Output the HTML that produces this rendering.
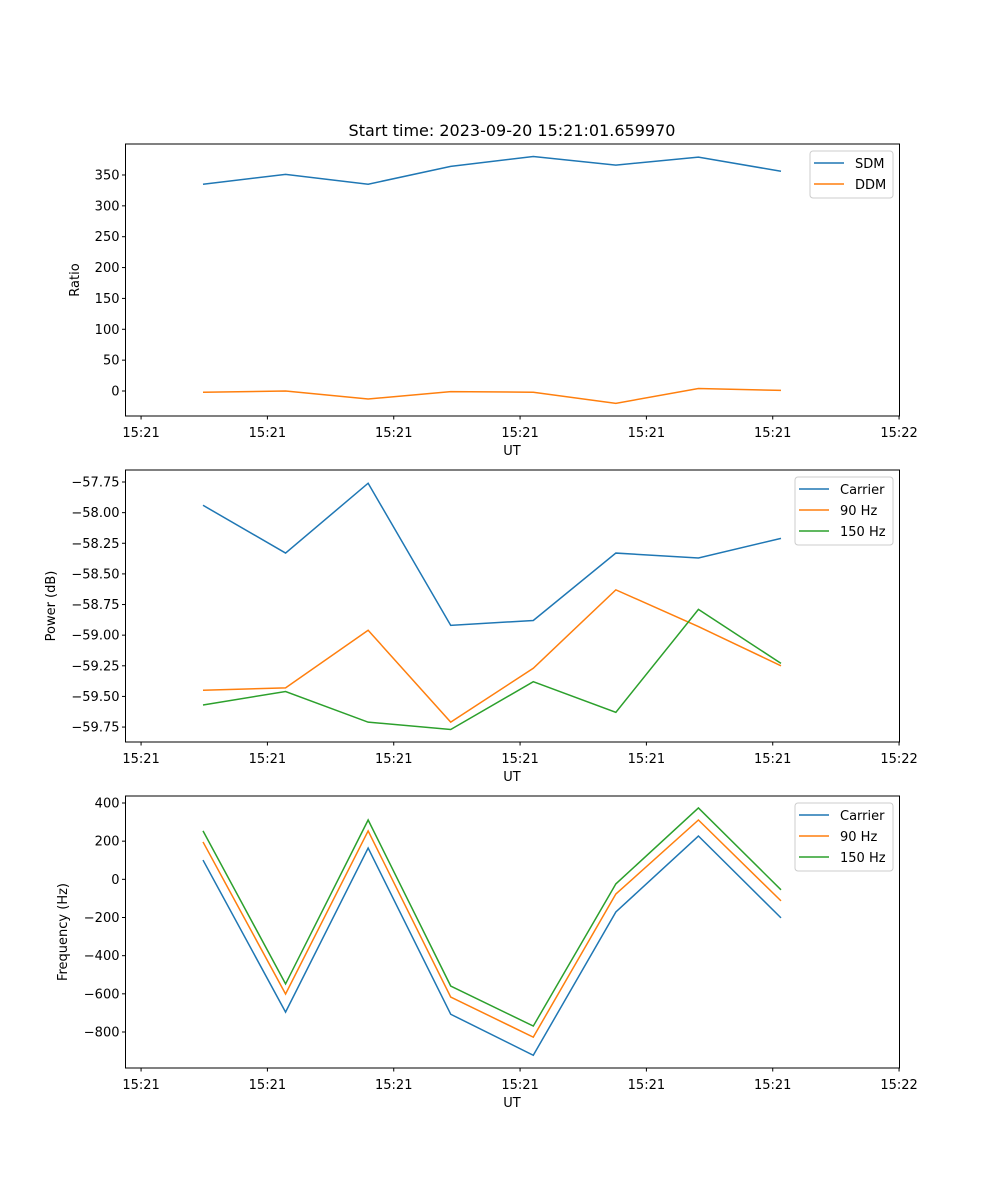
<!DOCTYPE html>
<html><head><meta charset="utf-8"><style>
body{margin:0;background:#fff}
svg{display:block;font-family:"DejaVu Sans","Liberation Sans",sans-serif}
</style></head><body>
<svg id="fig" width="1000" height="1200" viewBox="0 0 1000 1200">
<rect width="1000" height="1200" fill="#fff"/>
<text x="512" y="136" font-size="16" text-anchor="middle">Start time: 2023-09-20 15:21:01.659970</text>
</svg>
<script>
const timeIdx=[0,1,2,3,4,5,6,7];
const xTickPos=[-0.75,0.78,2.31,3.84,5.37,6.9,8.43];
const xTickLabels=["15:21","15:21","15:21","15:21","15:21","15:21","15:22"];
const sdm=[335,351,335,364,380,366,379,356];
const ddm=[-2,0,-13,-1,-2,-20,4,1];
const pCarrier=[-57.94,-58.33,-57.76,-58.92,-58.88,-58.33,-58.37,-58.21];
const p90=[-59.45,-59.43,-58.96,-59.71,-59.27,-58.63,-58.93,-59.25];
const p150=[-59.57,-59.46,-59.71,-59.77,-59.38,-59.63,-58.79,-59.23];
const fCarrier=[101,-696,164,-707,-922,-171,227,-202];
const f90=[196,-601,254,-617,-827,-77,311,-113];
const f150=[254,-548,311,-559,-769,-24,374,-55];
const y1Ticks=[0,50,100,150,200,250,300,350];
const y2Ticks=[-59.75,-59.5,-59.25,-59,-58.75,-58.5,-58.25,-58,-57.75];
const y3Ticks=[-800,-600,-400,-200,0,200,400];

const NS="http://www.w3.org/2000/svg";
const svg=document.getElementById('fig');
function mk(tag,attrs,parent){const e=document.createElementNS(NS,tag);for(const k in attrs)e.setAttribute(k,attrs[k]);(parent||svg).appendChild(e);return e;}
const C=['#1f77b4','#ff7f0e','#2ca02c'];
const L=125.5,R=899.5;
function xs(v){return 203+v*82.57;}
function fmt(v,d){let s=v.toFixed(d);return s.replace('-','\u2212');}
function panel(name,top,bot,ymin,ymax,yt,dec,ylabel,series,names,leg){
  const g=mk('g',{});
  
  
  const ys=v=>bot-(v-ymin)/(ymax-ymin)*(bot-top);
  series.forEach((s,i)=>{
    const p=mk('polyline',{points:s.map((v,j)=>xs(timeIdx[j])+','+ys(v)).join(' '),fill:'none',stroke:C[i],'stroke-width':1.5},g);
    
    
  });
  const f=mk('rect',{x:L,y:top,width:R-L,height:bot-top,fill:'none',stroke:'#000','stroke-width':1},g);
  
  
  xTickPos.forEach((t,i)=>{const x=xs(t);mk('line',{x1:x,x2:x,y1:bot,y2:bot+3.5,stroke:'#000'},g);
    const tx=mk('text',{x:x,y:bot+21,'font-size':13,'text-anchor':'middle'},g);tx.textContent=xTickLabels[i];
    
    });
  yt.forEach(t=>{const y=ys(t);mk('line',{x1:L-3.5,x2:L,y1:y,y2:y,stroke:'#000'},g);
    const tx=mk('text',{x:L-6,y:y+4.5,'font-size':13,'text-anchor':'end'},g);tx.textContent=fmt(t,dec);
    
    });
  const xl=mk('text',{x:512,y:bot+39,'font-size':13,'text-anchor':'middle'},g);xl.textContent='UT';
  
  
  const yx=leg.ylx,yy=(top+bot)/2;
  const yl=mk('text',{x:yx,y:yy,'font-size':13,'text-anchor':'middle',transform:`rotate(-90 ${yx} ${yy})`},g);yl.textContent=ylabel;
  
  
  const lg=mk('g',{},g);
  
  
  mk('rect',{x:leg.x,y:top+7,width:893-leg.x,height:names.length*21+5,rx:3,fill:'#fff',stroke:'#ccc'},lg);
  names.forEach((n,i)=>{const y=top+19+i*21;
    mk('line',{x1:leg.x+4,x2:leg.x+34,y1:y,y2:y,stroke:C[i],'stroke-width':1.5},lg);
    const t=mk('text',{x:leg.x+45,y:y+5,'font-size':13},lg);t.textContent=n;
    
    });
}
panel('ratio-panel',144,416,-40.5,400.2,y1Ticks,0,'Ratio',[sdm,ddm],['SDM','DDM'],{x:810,ylx:79});
panel('power-panel',470,742,-59.872,-57.652,y2Ticks,2,'Power (dB)',[pCarrier,p90,p150],['Carrier','90 Hz','150 Hz'],{x:795,ylx:55});
panel('frequency-panel',796,1068,-988.7,436.7,y3Ticks,0,'Frequency (Hz)',[fCarrier,f90,f150],['Carrier','90 Hz','150 Hz'],{x:795,ylx:67});
</script>
</body></html>
